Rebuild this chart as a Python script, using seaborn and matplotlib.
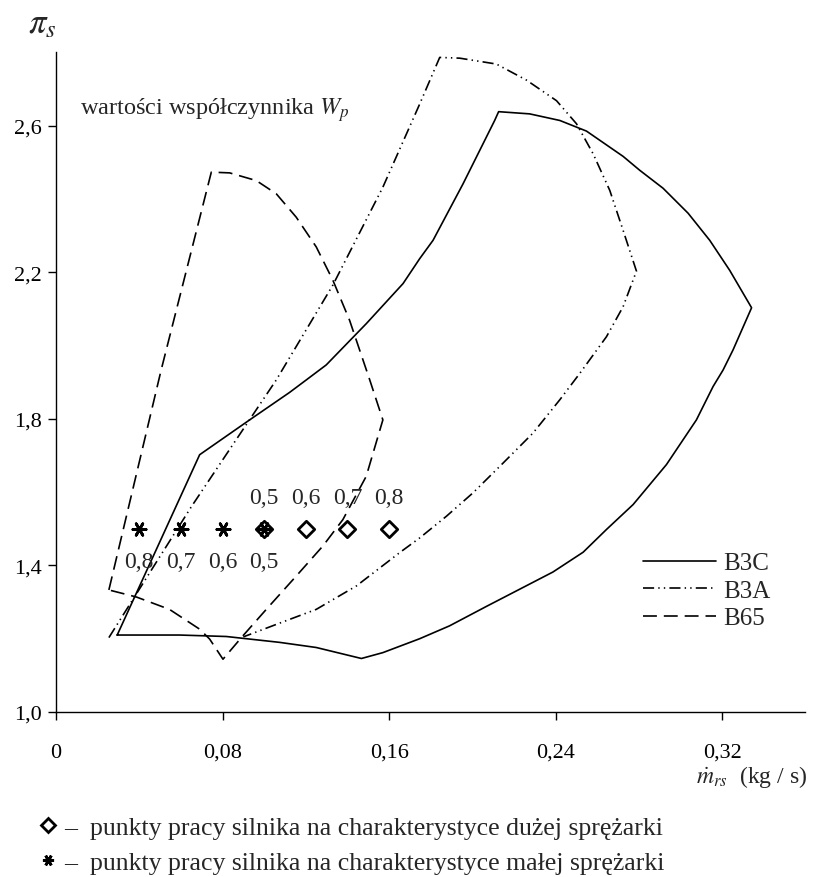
import numpy as np
import pandas as pd
import matplotlib
matplotlib.use("Agg")
import matplotlib.pyplot as plt
from matplotlib.lines import Line2D
import seaborn as sns

# ---------------- data ----------------
b3c_x = [0.0294, 0.0593, 0.0818, 0.1074, 0.125, 0.1467, 0.157, 0.1747, 0.189, 0.2067,
         0.2227, 0.2387, 0.2532, 0.2644, 0.2772, 0.2932, 0.3076, 0.3156, 0.3204, 0.3252,
         0.3341, 0.3236, 0.314, 0.3036, 0.2916, 0.2804, 0.2724, 0.2548, 0.242, 0.2275,
         0.2126, 0.2107, 0.1955, 0.1811, 0.1747, 0.1667, 0.1491, 0.1298, 0.1202, 0.1122,
         0.093, 0.069, 0.0294]
b3c_y = [1.210, 1.210, 1.206, 1.190, 1.176, 1.146, 1.162, 1.200, 1.235, 1.288,
         1.335, 1.382, 1.436, 1.498, 1.566, 1.675, 1.797, 1.888, 1.933, 1.988,
         2.103, 2.205, 2.287, 2.361, 2.429, 2.478, 2.516, 2.585, 2.614, 2.632,
         2.638, 2.614, 2.441, 2.287, 2.237, 2.169, 2.060, 1.947, 1.906, 1.872,
         1.797, 1.702, 1.210]

b3a_x = [0.0254, 0.045, 0.065, 0.085, 0.1058, 0.133, 0.157, 0.1747, 0.1843, 0.1939,
         0.2115, 0.226, 0.2404, 0.25, 0.258, 0.266, 0.2724, 0.2788, 0.2724, 0.2644,
         0.2516, 0.242, 0.2291, 0.2147, 0.2003, 0.1875, 0.1747, 0.1651, 0.1443, 0.125,
         0.1058, 0.090]
b3a_y = [1.203, 1.380, 1.560, 1.730, 1.906, 2.165, 2.432, 2.659, 2.786, 2.784,
         2.768, 2.724, 2.668, 2.605, 2.523, 2.423, 2.314, 2.203, 2.106, 2.024,
         1.924, 1.852, 1.761, 1.679, 1.598, 1.534, 1.475, 1.435, 1.344, 1.280,
         1.239, 1.205]

b65_x = [0.0254, 0.0505, 0.0746, 0.0834, 0.0962, 0.1058, 0.1154, 0.125, 0.133, 0.141,
         0.1507, 0.157, 0.149, 0.1378, 0.1282, 0.1154, 0.101, 0.0898, 0.0802, 0.0738,
         0.069, 0.0545, 0.0385, 0.0254]
b65_y = [1.333, 1.933, 2.473, 2.471, 2.450, 2.414, 2.350, 2.269, 2.178, 2.069,
         1.906, 1.797, 1.643, 1.525, 1.453, 1.371, 1.280, 1.208, 1.144, 1.199,
         1.226, 1.280, 1.314, 1.333]

big_x = [0.10, 0.12, 0.14, 0.16]          # duża sprężarka
big_y = [1.5, 1.5, 1.5, 1.5]
big_lab = ["0,5", "0,6", "0,7", "0,8"]
small_x = [0.04, 0.06, 0.08, 0.10]        # mała sprężarka
small_y = [1.5, 1.5, 1.5, 1.5]
small_lab = ["0,8", "0,7", "0,6", "0,5"]

xticks = [0, 0.08, 0.16, 0.24, 0.32]
xtick_labels = ["0", "0,08", "0,16", "0,24", "0,32"]
yticks = [1.0, 1.4, 1.8, 2.2, 2.6]
ytick_labels = ["1,0", "1,4", "1,8", "2,2", "2,6"]
series_names = ["B3C", "B3A", "B65"]

# ---------------- style ----------------
sns.set_theme(style="ticks")
plt.rcParams["font.family"] = ["Liberation Serif", "DejaVu Serif"]
plt.rcParams["mathtext.fontset"] = "stix"
plt.rcParams["lines.scale_dashes"] = False
FS_TICK = 16
FS_ANN = 17.5
FS_LEG = 18
FS_NUM = 17
FS_BOT = 18.5

fig = plt.figure(figsize=(8.16, 8.78), dpi=100)
ax = fig.add_axes([56 / 816, 1 - 713 / 878, 749.5 / 816, (713 - 53.3) / 878])

styles = {
    "B3C": "-",
    "B3A": (0, (8, 3, 1, 3, 1, 3)),
    "B65": (0, (10, 5)),
}
curves = {"B3C": (b3c_x, b3c_y), "B3A": (b3a_x, b3a_y), "B65": (b65_x, b65_y)}
for name in series_names:
    xs, ys = curves[name]
    df = pd.DataFrame({"x": xs, "y": ys})
    sns.lineplot(data=df, x="x", y="y", sort=False, estimator=None, color="black",
                 lw=1.2, linestyle=styles[name], ax=ax)

star = (6, 2, 90)
sns.scatterplot(x=small_x, y=small_y, marker=star, s=90, color="black",
                linewidth=2.0, ax=ax, zorder=5)
sns.scatterplot(x=big_x, y=big_y, marker="D", s=70, facecolor="white",
                edgecolor="black", linewidth=2.0, ax=ax, zorder=4)

for xv, yv, lab in zip(big_x, big_y, big_lab):
    ax.text(xv, yv + 0.085, lab, ha="center", va="center", fontsize=FS_NUM)
for xv, yv, lab in zip(small_x, small_y, small_lab):
    ax.text(xv, yv - 0.09, lab, ha="center", va="center", fontsize=FS_NUM)

ax.text(0.0113, 2.646, r"wartości współczynnika $W_p$", fontsize=FS_ANN,
        va="center", ha="left")

ax.set_xlim(0, 0.36)
ax.set_ylim(1.0, 2.8)
ax.set_xticks(xticks)
ax.set_xticklabels(xtick_labels, fontsize=FS_TICK)
ax.set_yticks(yticks)
ax.set_yticklabels(ytick_labels, fontsize=FS_TICK)
ax.set_xlabel("")
ax.set_ylabel("")
ax.tick_params(axis="x", direction="out", length=6, width=1, pad=16, colors="black")
ax.tick_params(axis="y", direction="out", length=6, width=1, pad=4, colors="black")
sns.despine(ax=ax)
for sp in ["left", "bottom"]:
    ax.spines[sp].set_color("black")
    ax.spines[sp].set_linewidth(1.0)

handles = [Line2D([], [], color="black", lw=1.2, linestyle=styles[n]) for n in series_names]
ax.legend(handles, series_names, loc="upper left",
          bbox_to_anchor=(643 / 816, 1 - 553 / 878), bbox_transform=fig.transFigure,
          frameon=False, fontsize=FS_LEG, handlelength=2.9, handletextpad=0.3,
          labelspacing=0.2, borderpad=0, borderaxespad=0)

fig.text(42 / 816, 1 - 25 / 878, r"$\pi_s$", fontsize=25, ha="center", va="center")
fig.text(752 / 816, 1 - 777 / 878, r"$\dot{m}_{rs}$  (kg / s)", fontsize=17,
         ha="center", va="center")

mh = [Line2D([], [], marker="D", color="black", markerfacecolor="white", lw=0,
             markersize=7, markeredgewidth=2.0),
      Line2D([], [], marker=star, color="black", lw=0, markersize=8, markeredgewidth=2.0)]
fig.legend(mh, ["–  punkty pracy silnika na charakterystyce dużej sprężarki",
                "–  punkty pracy silnika na charakterystyce małej sprężarki"],
           loc="upper left", bbox_to_anchor=(38 / 816, 1 - 817 / 878),
           frameon=False, fontsize=FS_BOT, handlelength=0.8, handletextpad=0.2,
           labelspacing=0.48, borderpad=0, borderaxespad=0)

fig.savefig("out.png", dpi=100)
